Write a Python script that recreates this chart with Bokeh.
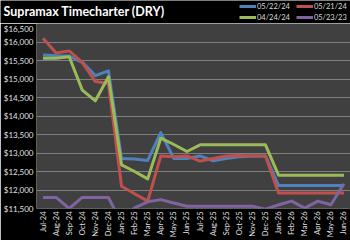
import math
from bokeh.plotting import figure
from bokeh.models import (FactorRange, Range1d, FixedTicker, NumeralTickFormatter,
                          Legend, LegendItem, Label)
from bokeh.embed import file_html
from bokeh.resources import INLINE

months = ["Jul-24", "Aug-24", "Sep-24", "Oct-24", "Nov-24", "Dec-24",
          "Jan-25", "Feb-25", "Mar-25", "Apr-25", "May-25", "Jun-25",
          "Jul-25", "Aug-25", "Sep-25", "Oct-25", "Nov-25", "Dec-25",
          "Jan-26", "Feb-26", "Mar-26", "Apr-26", "May-26", "Jun-26"]

s_052224 = [15650, 15630, 15620, 15450, 15090, 15220, 12850, 12840, 12800, 13550, 12850, 12850,
            12920, 12790, 12850, 12900, 12920, 12920, 12120, 12120, 12120, 12120, 12120, 12120]
s_052124 = [16100, 15700, 15760, 15450, 14930, 14880, 12100, 11900, 11700, 12920, 12900, 12920,
            12780, 12850, 12920, 12930, 12920, 12920, 11920, 11920, 11920, 11920, 11920, 11920]
s_042424 = [15560, 15560, 15600, 14700, 14410, 15060, 12680, 12500, 12300, 13400, 13230, 13040,
            13220, 13220, 13220, 13220, 13220, 13220, 12400, 12400, 12400, 12400, 12400, 12400]
s_052323 = [11800, 11800, 11500, 11800, 11800, 11800, 11100, 11520, 11680, 11740, 11650, 11560,
            11560, 11560, 11560, 11560, 11560, 11480, 11600, 11700, 11510, 11700, 11600, 12170]

series_names = ["05/22/24", "05/21/24", "04/24/24", "05/23/23"]
series_vals = [s_052224, s_052124, s_042424, s_052323]
colors = ["#4F81BD", "#C0504D", "#9BBB59", "#8064A2"]
y_ticks = list(range(11500, 16501, 500))
title_text = "Supramax Timecharter (DRY)"

# ---- header (title + legend) ----
h = figure(width=350, height=23, x_range=FactorRange(*months), y_range=Range1d(0, 1),
           output_backend="svg", toolbar_location=None,
           x_axis_location=None, y_axis_location=None,
           min_border_left=0, min_border_right=0, min_border_top=0, min_border_bottom=0)
h.background_fill_color = "black"
h.border_fill_color = "black"
h.outline_line_color = None
h.xgrid.grid_line_color = None
h.ygrid.grid_line_color = None

h.add_layout(Label(x=3, y=12.5, x_units="screen", y_units="screen",
                   text=title_text, text_color="white",
                   text_font="Lato", text_font_style="bold", text_font_size="12.5px",
                   text_baseline="middle"))

# legend proxies: the same series, far outside this header's y range (invisible here)
legend_renderers = [h.line(months, vals, line_color=c, line_width=3)
                    for vals, c in zip(series_vals, colors)]

def mk_legend(idx, ypos):
    lg = Legend(items=[LegendItem(label=series_names[i], renderers=[legend_renderers[i]]) for i in idx],
                orientation="horizontal", location=(239, ypos),
                glyph_width=17, glyph_height=8, label_standoff=1, spacing=6,
                padding=0, margin=0, label_height=10,
                label_text_font="Lato", label_text_font_size="7.5px",
                label_text_color="#d9d9d9",
                background_fill_alpha=0, border_line_alpha=0)
    h.add_layout(lg)

mk_legend([0, 1], 12)
mk_legend([2, 3], 1)

# ---- main chart ----
p = figure(width=350, height=217, x_range=FactorRange(*months), y_range=Range1d(11500, 16500),
           output_backend="svg", toolbar_location=None,
           min_border_left=36, min_border_right=0, min_border_top=0, min_border_bottom=30)
p.background_fill_color = "#404040"
p.border_fill_color = "black"
p.outline_line_color = None

p.xgrid.grid_line_color = None
p.ygrid.grid_line_color = "#7f7f7f"
p.ygrid.grid_line_width = 1

p.yaxis.ticker = FixedTicker(ticks=y_ticks)
p.yaxis.formatter = NumeralTickFormatter(format="$0,0")
for ax in (p.xaxis[0], p.yaxis[0]):
    ax.axis_line_color = None
    ax.major_tick_line_color = None
    ax.minor_tick_line_color = None
    ax.major_tick_out = 0
    ax.major_tick_in = 0
    ax.minor_tick_out = 0
    ax.minor_tick_in = 0
    ax.major_label_text_color = "#e0e0e0"
    ax.major_label_text_font = "Lato"
    ax.major_label_text_font_size = "8px"
    ax.major_label_standoff = 3
p.xaxis.major_label_text_font_size = "7.5px"
p.xaxis.major_label_orientation = math.pi / 2

for vals, c in zip(series_vals, colors):
    p.line(months, vals, line_color=c, line_width=3, line_join="round")

open("out.html", "w").write(file_html([h, p], INLINE))
